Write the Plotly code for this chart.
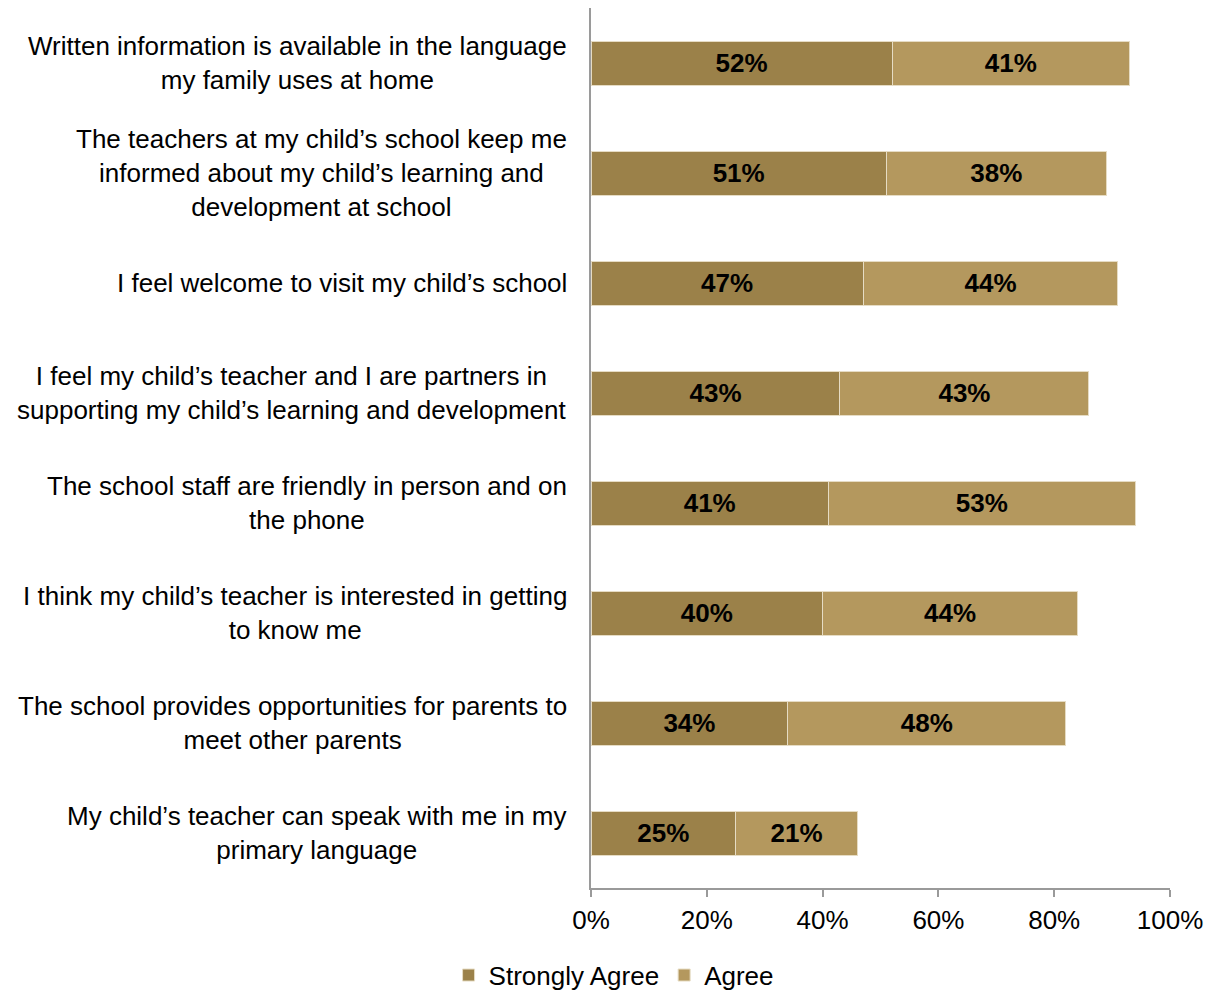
import plotly.graph_objects as go

# Survey statements, top to bottom
statements = [
    "Written information is available in the language<br>my family uses at home",
    "The teachers at my child’s school keep me<br>informed about my child’s learning and<br>development at school",
    "I feel welcome to visit my child’s school",
    "I feel my child’s teacher and I are partners in<br>supporting my child’s learning and development",
    "The school staff are friendly in person and on<br>the phone",
    "I think my child’s teacher is interested in getting<br>to know me",
    "The school provides opportunities for parents to<br>meet other parents",
    "My child’s teacher can speak with me in my<br>primary language",
]
strongly_agree = [52, 51, 47, 43, 41, 40, 34, 25]
agree = [41, 38, 44, 43, 53, 44, 48, 21]

x_ticks = [0, 20, 40, 60, 80, 100]
x_tick_labels = ["0%", "20%", "40%", "60%", "80%", "100%"]

cat_ids = list(range(len(statements)))

FONT = "Liberation Sans, Arial, sans-serif"
DARK = "#9B8149"
LIGHT = "#B4985E"
SIZE = 26

fig = go.Figure()
for name, vals, col in [("Strongly Agree", strongly_agree, DARK), ("Agree", agree, LIGHT)]:
    fig.add_trace(go.Bar(
        name=name,
        y=cat_ids,
        x=vals,
        orientation="h",
        marker=dict(color=col, line=dict(color="#E6DCC4", width=1)),
        text=[f"<b>{v}%</b>" for v in vals],
        textposition="inside",
        insidetextanchor="middle",
        textfont=dict(family=FONT, size=SIZE, color="#000000"),
        textangle=0,
    ))

# Category labels, lines centred within each block
for i, s in enumerate(statements):
    fig.add_annotation(
        xref="paper", yref="y", x=0, y=i,
        xanchor="right", yanchor="middle", xshift=-22,
        text=s, showarrow=False, align="center",
        font=dict(family=FONT, size=SIZE, color="#000000"),
    )

fig.update_layout(
    barmode="stack",
    bargap=0.6,
    width=1215, height=992,
    margin=dict(l=591, r=45, t=8, b=104, autoexpand=False),
    paper_bgcolor="white",
    plot_bgcolor="white",
    uniformtext=dict(minsize=8, mode="show"),
    legend=dict(
        orientation="h",
        xref="container", yref="container",
        x=0.505, xanchor="center", y=0.017, yanchor="middle",
        font=dict(family=FONT, size=SIZE, color="#000000"),
        traceorder="normal", itemwidth=30,
    ),
    xaxis=dict(
        range=[0, 100], tickvals=x_ticks, ticktext=x_tick_labels,
        showgrid=False, zeroline=False,
        showline=True, linecolor="#9A9A9A", linewidth=2,
        ticks="outside", ticklen=7, tickcolor="#9A9A9A", tickwidth=2,
        ticklabelstandoff=1,
        tickfont=dict(family=FONT, size=SIZE, color="#000000"),
        fixedrange=True,
    ),
    yaxis=dict(
        range=[len(statements) - 0.5, -0.5],
        showticklabels=False, showgrid=False, zeroline=False,
        showline=True, linecolor="#9A9A9A", linewidth=2,
        ticks="", fixedrange=True,
    ),
)

fig.write_html("out.html")
